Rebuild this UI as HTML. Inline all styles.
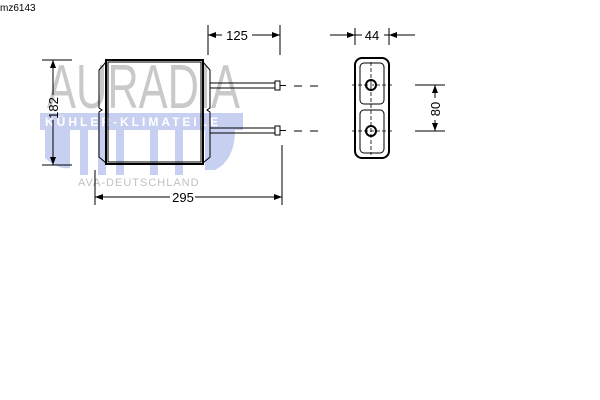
<!DOCTYPE html>
<html><head><style>body{margin:0;background:#fff}svg{display:block}</style></head><body>
<svg width="600" height="400" viewBox="0 0 600 400" xmlns="http://www.w3.org/2000/svg" font-family="Liberation Sans, sans-serif">
<text x="0" y="11" font-size="10" fill="#000">mz6143</text>
<!-- logo -->
<g opacity="0.9">
<rect x="40" y="113" width="203" height="17" fill="#c3ccf0"/>
<path d="M45 118 h25 v50 q-12 2 -25 -10 z" fill="#c3ccf0"/>
<rect x="80" y="130" width="8" height="45" fill="#c3ccf0"/>
<rect x="98" y="130" width="8" height="45" fill="#c3ccf0"/>
<rect x="116" y="130" width="8" height="45" fill="#c3ccf0"/>
<rect x="150" y="130" width="8" height="45" fill="#c3ccf0"/>
<rect x="175" y="130" width="8" height="45" fill="#c3ccf0"/>
<path d="M205 130 h30 q0 30 -20 40 h-10 z" fill="#c3ccf0"/>
<text x="47" y="108" font-size="62" fill="#c4c4c4" textLength="193" lengthAdjust="spacingAndGlyphs">AURADIA</text>
<text x="45" y="126" font-size="12" font-weight="bold" fill="#fff" letter-spacing="3">KÜHLER-KLIMATEILE</text>
<text x="78" y="186" font-size="11" fill="#bbb" letter-spacing="1">AVA-DEUTSCHLAND</text>
</g>
<g stroke="#000" fill="none" stroke-width="1">
<!-- core -->
<rect x="106" y="60" width="97" height="104" stroke-width="2"/>
<rect x="108" y="62" width="93" height="100"/>
<path d="M106 62 L99 70 V108 L102 110 L99 112 V157 L106 163"/>
<path d="M203 62 L210 70 V108 L207 110 L210 112 V157 L203 163"/>
<!-- pipes -->
<path d="M210 83 H275 M210 88 H275 M210 128 H275 M210 133 H275"/>
<rect x="275" y="81" width="5" height="9"/><rect x="275" y="126" width="5" height="9"/>
<path d="M280 85.5 H286 M280 130.5 H286"/>
<path d="M294 86 H302 M310 86 H318 M294 131 H302 M310 131 H318"/>
<!-- dims -->
<path d="M208 25 V55 M280 25 V55 M208 35 H222 M252 35 H280"/>
<path d="M42 60 H72 M42 165 H72 M53 60 V95 M53 120 V165"/>
<path d="M95 170 V205 M282 145 V205 M95 197 H170 M195 197 H282"/>
<path d="M330 35 H355 M355 28 V45 M389 28 V45 M389 35 H415 M355 35 H362 M384 35 H389"/>
<path d="M415 85 H445 M415 131 H445 M435 85 V98 M435 120 V131"/>
<!-- end view -->
<rect x="355" y="58" width="34" height="100" rx="7" stroke-width="2"/>
<rect x="360" y="63" width="24" height="41" rx="4"/>
<rect x="360" y="110" width="24" height="43" rx="4"/>
<circle cx="371" cy="85" r="5" stroke-width="2"/>
<circle cx="371" cy="131" r="5" stroke-width="2"/>
<path d="M371 62 V155 M352 85 H392 M352 131 H392" stroke-dasharray="4 2" stroke-width="0.8"/>
</g>
<g fill="#000">
<path d="M208 35 l8 -3 v6 z M280 35 l-8 -3 v6 z"/>
<path d="M53 60 l-3 8 h6 z M53 165 l-3 -8 h6 z"/>
<path d="M95 197 l8 -3 v6 z M282 197 l-8 -3 v6 z"/>
<path d="M355 35 l-8 -3 v6 z M389 35 l8 -3 v6 z"/>
<path d="M435 85 l-3 8 h6 z M435 131 l-3 -8 h6 z"/>
</g>
<g font-size="13" fill="#000">
<text x="237" y="40" text-anchor="middle">125</text>
<text x="183" y="202" text-anchor="middle">295</text>
<text x="372" y="40" text-anchor="middle">44</text>
<text transform="translate(58,108) rotate(-90)" text-anchor="middle">182</text>
<text transform="translate(440,109) rotate(-90)" text-anchor="middle">80</text>
</g>
</svg>
</body></html>
